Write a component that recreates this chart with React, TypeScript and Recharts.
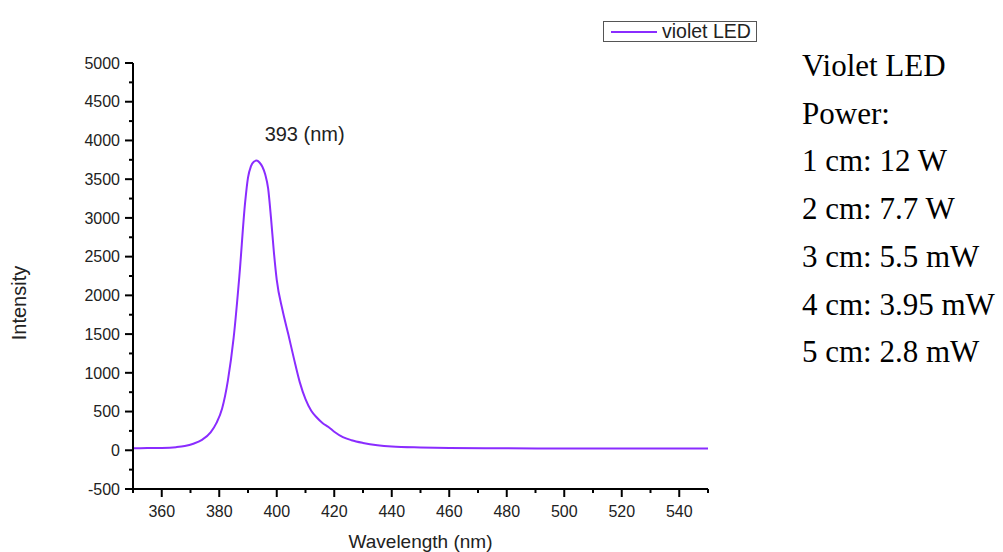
import React from 'react';
import { Legend, Line, LineChart, ReferenceDot, XAxis, YAxis } from 'recharts';

// spectrum
const wavelengths = [
  350, 355, 360, 365, 368, 371, 374, 377, 379, 381, 383, 385, 387, 389, 390, 391, 392, 393, 394,
  395, 396, 397, 398, 399, 400, 402, 404, 406, 408, 410, 412, 414, 416, 418, 420, 423, 426, 430,
  435, 440, 450, 460, 480, 500, 520, 540, 550,
];
const intensity = [
  26, 28, 30, 40, 55, 85, 135, 230, 350, 540, 900, 1450, 2250, 3200, 3520, 3665, 3725, 3740, 3715,
  3660, 3560, 3380, 3000, 2560, 2200, 1810, 1500, 1180, 880, 660, 510, 420, 350, 300, 240, 170,
  130, 95, 65, 48, 36, 30, 25, 23, 22, 22, 22,
];

const xTicks = [
  350, 360, 370, 380, 390, 400, 410, 420, 430, 440, 450, 460, 470, 480, 490, 500, 510, 520, 530,
  540, 550,
];
const xLabels = [360, 380, 400, 420, 440, 460, 480, 500, 520, 540];
const yTicks = [
  -500, -250, 0, 250, 500, 750, 1000, 1250, 1500, 1750, 2000, 2250, 2500, 2750, 3000, 3250, 3500,
  3750, 4000, 4250, 4500, 4750, 5000,
];
const yLabels = [-500, 0, 500, 1000, 1500, 2000, 2500, 3000, 3500, 4000, 4500, 5000];

const powerLines = [
  'Violet LED',
  'Power:',
  '1 cm: 12 W',
  '2 cm: 7.7 W',
  '3 cm: 5.5 mW',
  '4 cm: 3.95 mW',
  '5 cm: 2.8 mW',
];

const data = wavelengths.map((w, i) => ({ wl: w, value: intensity[i] }));

const LINE_COLOR = '#8a2cff';
const TEXT = '#222';
const FONT = '"Liberation Sans", Arial, sans-serif';

function YTick(props: any) {
  const { x, y, payload } = props;
  const major = yLabels.includes(payload.value);
  return (
    <g>
      <line x1={x - (major ? 8 : 4)} x2={x} y1={y} y2={y} stroke='#000' strokeWidth={2} />
      {major && (
        <text x={x - 13} y={y} dy='0.36em' textAnchor='end' fontSize={16} fill={TEXT} fontFamily={FONT}>
          {payload.value}
        </text>
      )}
    </g>
  );
}

function XTick(props: any) {
  const { x, y, payload } = props;
  const major = xLabels.includes(payload.value);
  return (
    <g>
      <line x1={x} x2={x} y1={y} y2={y + (major ? 8 : 4)} stroke='#000' strokeWidth={2} />
      {major && (
        <text x={x} y={y + 28} textAnchor='middle' fontSize={16} fill={TEXT} fontFamily={FONT}>
          {payload.value}
        </text>
      )}
    </g>
  );
}

function LegendBox({ payload }: any) {
  const item = payload && payload[0];
  if (!item) return null;
  return (
    <div
      style={{
        border: '1px solid #555',
        width: 152,
        height: 19,
        display: 'flex',
        alignItems: 'center',
        background: '#fff',
        fontFamily: FONT,
        fontSize: 19.5,
        lineHeight: '19px',
        color: TEXT,
        whiteSpace: 'nowrap',
        overflow: 'hidden',
      }}
    >
      <svg width={56} height={19} style={{ flex: 'none' }}>
        <line x1={7} x2={53} y1={10} y2={10} stroke={item.color} strokeWidth={2} />
      </svg>
      <span style={{ marginLeft: 2 }}>{item.value}</span>
    </div>
  );
}

export default function App() {
  return (
    <div style={{ position: 'absolute', left: 0, top: 0, width: 1003, height: 552, background: '#fff' }}>
      <LineChart
        width={1003}
        height={552}
        data={data}
        margin={{ top: 63, right: 295, bottom: 13, left: 10 }}
      >
        <XAxis
          dataKey='wl'
          type='number'
          domain={[350, 550]}
          ticks={xTicks}
          interval={0}
          height={50}
          tickSize={0}
          tickMargin={0}
          tick={<XTick />}
          axisLine={{ stroke: '#000', strokeWidth: 2 }}
          tickLine={false}
          label={{
            value: 'Wavelength (nm)',
            position: 'insideBottom',
            offset: -9,
            fontSize: 19,
            fill: TEXT,
            fontFamily: FONT,
          }}
        />
        <YAxis
          type='number'
          domain={[-500, 5000]}
          ticks={yTicks}
          interval={0}
          width={123}
          tickSize={0}
          tickMargin={0}
          tick={<YTick />}
          axisLine={{ stroke: '#000', strokeWidth: 2 }}
          tickLine={false}
          label={{
            value: 'Intensity',
            angle: -90,
            position: 'insideLeft',
            offset: 9,
            dy: 27,
            fontSize: 20,
            fill: TEXT,
            fontFamily: FONT,
            style: { textAnchor: 'middle' },
          }}
        />
        <Legend
          layout='horizontal'
          verticalAlign='middle'
          align='center'
          content={<LegendBox />}
          wrapperStyle={{ position: 'absolute', left: 603, top: 21, width: 'auto' }}
        />
        <Line
          type='monotone'
          dataKey='value'
          name='violet LED'
          stroke={LINE_COLOR}
          strokeWidth={2}
          dot={false}
          isAnimationActive={false}
        />
        <ReferenceDot
          x={393}
          y={4090}
          r={0}
          fill='none'
          stroke='none'
          label={{
            value: '393 (nm)',
            position: 'right',
            offset: 8,
            fontSize: 20,
            fill: TEXT,
            fontFamily: FONT,
          }}
        />
      </LineChart>
      <div
        style={{
          position: 'absolute',
          left: 802,
          top: 42,
          fontFamily: '"Liberation Serif", "Times New Roman", serif',
          fontSize: 31,
          lineHeight: '47.7px',
          color: '#000',
          whiteSpace: 'nowrap',
        }}
      >
        {powerLines.map((t) => (
          <div key={t}>{t}</div>
        ))}
      </div>
    </div>
  );
}
